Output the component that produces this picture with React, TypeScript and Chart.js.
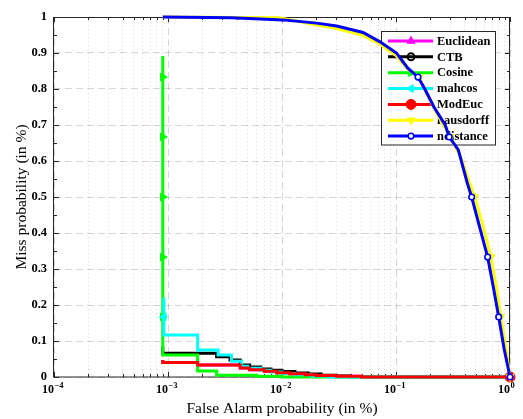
import React, { useEffect, useRef } from 'react';
import { Chart, registerables } from 'chart.js';
import { drawPoint } from 'chart.js/helpers';

Chart.register(...registerables);

// ---------------- data ----------------
const seriesNames = ['Euclidean', 'CTB', 'Cosine', 'mahcos', 'ModEuc', 'hausdorff', 'ndistance'];
const seriesColors = ['#ff00ff', '#000000', '#00ff00', '#00ffff', '#ff0000', '#ffff00', '#0000ff'];

// x tick labels: base 10 with these exponents (at 1e-4 ... 1e0)
const xTickBase = '10';
const xTickExponents = ['−4', '−3', '−2', '−1', '0'];
const yTickLabels = ['0', '0.1', '0.2', '0.3', '0.4', '0.5', '0.6', '0.7', '0.8', '0.9', '1'];

const euclideanFA = [0.0009, 0.0009, 0.00182, 0.0043, 0.0052, 0.007, 0.009, 0.0117, 0.016, 0.02, 0.03, 0.05, 1];
const euclideanMiss = [0.047, 0.04, 0.033, 0.025, 0.02, 0.016, 0.012, 0.009, 0.006, 0.004, 0.002, 0, 0];
const euclideanMarks = [12];

const ctbFA = [0.0009, 0.0009, 0.00267, 0.0035, 0.0043, 0.0052, 0.0065, 0.008, 0.01, 0.013, 0.017, 0.022, 0.03, 0.04, 0.06, 1];
const ctbMiss = [0.085, 0.066, 0.056, 0.047, 0.033, 0.028, 0.022, 0.019, 0.015, 0.011, 0.008, 0.005, 0.003, 0.001, 0, 0];
const ctbMarks: number[] = [];

const cosineFA = [0.0009, 0.0009, 0.0009, 0.0009, 0.0009, 0.0009, 0.0009, 0.00182, 0.00267, 0.006, 0.01, 1];
const cosineMiss = [0.892, 0.833, 0.667, 0.5, 0.333, 0.167, 0.061, 0.017, 0.005, 0.002, 0, 0];
const cosineMarks = [1, 2, 3, 4, 5];

const mahcosFA = [0.00092, 0.00092, 0.00092, 0.00182, 0.00275, 0.0036, 0.0044, 0.005, 0.0065, 0.008, 0.01, 0.013, 0.018, 0.025, 1];
const mahcosMiss = [0.22, 0.167, 0.117, 0.075, 0.061, 0.044, 0.03, 0.024, 0.019, 0.014, 0.01, 0.006, 0.003, 0, 0];
const mahcosMarks = [1];

const modEucFA = [0.0009, 0.0009, 0.00182, 0.0043, 0.0052, 0.007, 0.009, 0.0117, 0.016, 0.02, 0.03, 0.05, 1];
const modEucMiss = [0.047, 0.04, 0.033, 0.025, 0.02, 0.016, 0.012, 0.009, 0.006, 0.004, 0.002, 0, 0];
const modEucMarks = [12];

const hausdorffFA = [0.0009, 0.0095, 0.02, 0.03, 0.05, 0.072, 0.1, 0.127, 0.16, 0.19, 0.23, 0.3, 0.37, 0.43, 0.49, 0.58, 0.68, 0.76, 0.83, 0.92, 1];
const hausdorffMiss = [1, 0.998, 0.978, 0.968, 0.95, 0.925, 0.893, 0.855, 0.833, 0.78, 0.73, 0.667, 0.61, 0.55, 0.5, 0.42, 0.333, 0.25, 0.167, 0.08, 0];
const hausdorffMarks = [8, 11, 14, 16, 18, 20];

const ndistanceFA = [0.0009, 0.0036, 0.0102, 0.0201, 0.0302, 0.0514, 0.0724, 0.101, 0.127, 0.156, 0.179, 0.215, 0.27, 0.293, 0.352, 0.422, 0.461, 0.538, 0.637, 0.714, 0.796, 0.886, 1];
const ndistanceMiss = [1, 0.998, 0.992, 0.983, 0.975, 0.957, 0.931, 0.9, 0.858, 0.833, 0.8, 0.75, 0.7, 0.667, 0.631, 0.539, 0.5, 0.42, 0.333, 0.25, 0.167, 0.08, 0];
const ndistanceMarks = [9, 13, 16, 18, 20, 22];

// ---------------- styles ----------------
const FONT = '"Liberation Serif", "Times New Roman", serif';

type MarkerStyle = { style: string; rotation: number; radius: number; fill: string; border: string; borderWidth: number };

const markerStyles: MarkerStyle[] = [
  { style: 'triangle', rotation: 0, radius: 4.5, fill: '#ff00ff', border: '#ff00ff', borderWidth: 1 },
  { style: 'circle', rotation: 0, radius: 3.5, fill: 'rgba(0,0,0,0)', border: '#000000', borderWidth: 2 },
  { style: 'triangle', rotation: 90, radius: 4.5, fill: '#00ff00', border: '#00ff00', borderWidth: 1 },
  { style: 'triangle', rotation: 270, radius: 4.5, fill: '#00ffff', border: '#00ffff', borderWidth: 1 },
  { style: 'circle', rotation: 0, radius: 5, fill: '#ff0000', border: '#ff0000', borderWidth: 1 },
  { style: 'triangle', rotation: 180, radius: 4.5, fill: '#ffff00', border: '#ffff00', borderWidth: 1 },
  { style: 'circle', rotation: 0, radius: 2.8, fill: '#ffffff', border: '#0000ff', borderWidth: 1.6 },
];

const seriesFA = [euclideanFA, ctbFA, cosineFA, mahcosFA, modEucFA, hausdorffFA, ndistanceFA];
const seriesMiss = [euclideanMiss, ctbMiss, cosineMiss, mahcosMiss, modEucMiss, hausdorffMiss, ndistanceMiss];
const seriesMarks = [euclideanMarks, ctbMarks, cosineMarks, mahcosMarks, modEucMarks, hausdorffMarks, ndistanceMarks];
const seriesStepped = [true, true, true, true, true, false, false];

const axesAndLegend = {
  id: 'axesAndLegend',
  beforeDatasetsDraw(chart: any) {
    const { ctx, chartArea: a, scales } = chart;
    const xs = scales.x;
    const ys = scales.y;
    ctx.save();
    ctx.strokeStyle = '#262626';
    ctx.lineWidth = 1;
    ctx.setLineDash([]);
    const seg = (x1: number, y1: number, x2: number, y2: number) => {
      ctx.beginPath();
      ctx.moveTo(x1, y1);
      ctx.lineTo(x2, y2);
      ctx.stroke();
    };
    for (const t of xs.ticks) {
      const px = Math.round(xs.getPixelForValue(t.value)) + 0.5;
      const len = t.major ? 5 : 3;
      seg(px, a.bottom, px, a.bottom - len);
      seg(px, a.top, px, a.top + len);
    }
    for (const t of ys.ticks) {
      const py = Math.round(ys.getPixelForValue(t.value)) + 0.5;
      const len = t.major ? 5 : 3;
      seg(a.left, py, a.left + len, py);
      seg(a.right, py, a.right - len, py);
    }
    ctx.strokeRect(Math.round(a.left) - 0.5, Math.round(a.top) + 0.5, Math.round(a.right - a.left), Math.round(a.bottom - a.top) - 0.5);

    // x tick labels with superscript exponents
    ctx.fillStyle = '#000000';
    ctx.textBaseline = 'alphabetic';
    let d = 0;
    for (const t of xs.ticks) {
      if (!t.major) continue;
      const px = xs.getPixelForValue(t.value);
      ctx.font = 'bold 12px ' + FONT;
      ctx.textAlign = 'right';
      ctx.fillText(xTickBase, px, a.bottom + 16);
      ctx.font = 'bold 8.5px ' + FONT;
      ctx.textAlign = 'left';
      ctx.fillText(xTickExponents[d], px + 0.5, a.bottom + 11);
      d++;
    }

    // legend box
    const lx = 381.5, ly = 31.5, lw = 114, lh = 113.5;
    ctx.fillStyle = '#ffffff';
    ctx.fillRect(lx, ly, lw, lh);
    ctx.strokeStyle = '#262626';
    ctx.lineWidth = 1;
    ctx.strokeRect(lx, ly, lw, lh);
    ctx.font = 'bold 12.5px ' + FONT;
    ctx.textBaseline = 'middle';
    ctx.textAlign = 'left';
    for (let i = 0; i < seriesNames.length; i++) {
      const cy = 41 + i * 15.85;
      ctx.strokeStyle = seriesColors[i];
      ctx.lineWidth = 3;
      seg(388, cy, 433, cy);
      const m = markerStyles[i];
      ctx.fillStyle = m.fill;
      ctx.strokeStyle = m.border;
      ctx.lineWidth = m.borderWidth;
      drawPoint(ctx, { pointStyle: m.style as any, rotation: m.rotation, radius: m.radius, borderWidth: m.borderWidth }, 411, cy);
      ctx.fillStyle = '#000000';
      ctx.fillText(seriesNames[i], 437, cy + 0.5);
    }
    ctx.restore();
  },
};

export default function App() {
  const ref = useRef<HTMLCanvasElement>(null);
  useEffect(() => {
    if (!ref.current) return;
    const datasets = seriesNames
      .map((name, i) => {
        const m = markerStyles[i];
        const marks = seriesMarks[i];
        return {
          label: name,
          data: seriesFA[i].map((x, j) => ({ x, y: seriesMiss[i][j] })),
          borderColor: seriesColors[i],
          backgroundColor: seriesColors[i],
          borderWidth: 3,
          stepped: seriesStepped[i] ? 'before' : false,
          tension: 0,
          fill: false,
          clip: false,
          pointStyle: m.style,
          pointRotation: m.rotation,
          pointRadius: (c: any) => (marks.includes(c.dataIndex) ? m.radius : 0),
          pointHoverRadius: 0,
          pointBackgroundColor: m.fill,
          pointBorderColor: m.border,
          pointBorderWidth: m.borderWidth,
        };
      })
      .reverse();

    const majorGrid = 'rgba(0,0,0,0.16)';
    const minorGrid = 'rgba(0,0,0,0.15)';

    const chart = new Chart(ref.current, {
      type: 'line',
      data: { datasets: datasets as any },
      plugins: [axesAndLegend],
      options: {
        animation: false,
        responsive: false,
        events: [],
        layout: { padding: { left: 0, right: 13, top: 17, bottom: 0 } },
        plugins: { legend: { display: false }, tooltip: { enabled: false }, title: { display: false } },
        scales: {
          x: {
            type: 'logarithmic',
            min: 1e-4,
            max: 1,
            afterBuildTicks: (scale: any) => {
              const t: any[] = [];
              for (let e = -4; e <= 0; e++) {
                for (let k = 1; k <= 9; k++) {
                  const v = k * Math.pow(10, e);
                  if (v > 1.000001) break;
                  t.push({ value: v, major: k === 1 });
                }
              }
              scale.ticks = t;
            },
            afterFit: (scale: any) => {
              scale.height = 42;
            },
            ticks: { display: false, autoSkip: false, maxRotation: 0 },
            grid: {
              drawTicks: false,
              color: (c: any) => (c.tick && c.tick.major ? majorGrid : minorGrid),
              lineWidth: 1,
            },
            border: { display: false, dash: (c: any) => (c.tick && c.tick.major ? [7, 4] : [1, 3]) },
            title: {
              display: true,
              text: 'False Alarm probability (in %)',
              color: '#000000',
              font: { family: FONT, size: 15.5 },
              padding: { top: 0, bottom: 0.5 },
            },
          },
          y: {
            type: 'linear',
            min: 0,
            max: 1,
            afterBuildTicks: (scale: any) => {
              const t: any[] = [];
              for (let k = 0; k <= 20; k++) t.push({ value: k / 20, major: k % 2 === 0 });
              scale.ticks = t;
            },
            afterFit: (scale: any) => {
              scale.width = 54;
            },
            ticks: {
              autoSkip: false,
              padding: 7,
              color: '#000000',
              font: { family: FONT, size: 12.5, weight: 'bold' },
              callback: (value: any) => {
                const k = Math.round(Number(value) * 20);
                return k % 2 === 0 ? yTickLabels[k / 2] : '';
              },
            },
            grid: {
              drawTicks: false,
              color: (c: any) => (c.tick && c.tick.major ? majorGrid : 'rgba(0,0,0,0)'),
              lineWidth: 1,
            },
            border: { display: false, dash: [7, 4] },
            title: {
              display: true,
              text: 'Miss probability (in %)',
              color: '#000000',
              font: { family: FONT, size: 15.5 },
              padding: { top: 12.5, bottom: 0 },
            },
          },
        },
      } as any,
    });
    return () => chart.destroy();
  }, []);

  return (
    <div style={{ position: 'fixed', left: 0, top: 0, width: 523, height: 419, background: '#ffffff' }}>
      <canvas ref={ref} width={523} height={419} />
    </div>
  );
}
